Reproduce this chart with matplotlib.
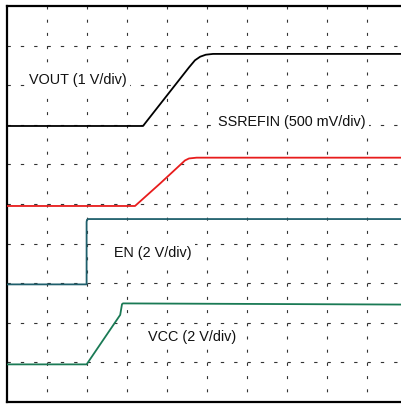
import matplotlib
matplotlib.use("Agg")
import matplotlib.pyplot as plt

plt.rcParams['font.family'] = ['Liberation Sans', 'DejaVu Sans']
plt.rcParams['lines.scale_dashes'] = False

# Oscilloscope traces in divisions (x: time div, y: vertical div)
vout_t = [0.0, 3.40, 4.55, 4.70, 4.83, 4.97, 5.15, 10.0]
vout_v = [6.97, 6.97, 8.45, 8.63, 8.72, 8.77, 8.79, 8.79]

ssrefin_t = [0.0, 3.20, 3.83, 4.45, 4.55, 4.74, 10.0]
ssrefin_v = [4.95, 4.95, 5.52, 6.10, 6.15, 6.17, 6.17]

en_t = [0.0, 1.99, 1.99, 2.00, 2.03, 2.10, 10.0]
en_v = [2.97, 2.97, 4.55, 4.60, 4.62, 4.62, 4.62]

vcc_t = [0.0, 1.99, 2.83, 2.875, 2.90, 10.0]
vcc_v = [0.95, 0.95, 2.20, 2.47, 2.49, 2.46]

labels = ["VOUT (1 V/div)", "SSREFIN (500 mV/div)", "EN (2 V/div)", "VCC (2 V/div)"]
label_pos = [(0.55, 8.13), (5.28, 7.07), (2.68, 3.77), (3.53, 1.64)]

W, H = 402, 404
fig = plt.figure(figsize=(W / 100, H / 100), dpi=100)
ax = fig.add_axes([7 / W, 2 / H, 400 / W, 396 / H])
ax.set_xlim(0, 10)
ax.set_ylim(0, 10)
ax.set_xticks([])
ax.set_yticks([])
for s in ['left', 'top', 'bottom']:
    ax.spines[s].set_linewidth(1.6)
    ax.spines[s].set_color('black')
ax.spines['right'].set_visible(False)

grid_kw = dict(color='#333333', lw=0.8, zorder=1)
# horizontal: period 13.33 px = 9.6 pt, dash 2.4 pt starting at each crossing
# vertical: period 13.2 px = 9.504 pt, dash 2.16 pt hanging below each crossing
for i in range(1, 10):
    ax.axvline(i, linestyle=(2.16, (2.16, 9.504 - 2.16)), **grid_kw)
    ax.axhline(i, linestyle=(0.0, (2.4, 7.2)), **grid_kw)

lw = 1.3
ax.plot(vout_t, vout_v, color='black', lw=lw, zorder=3)
ax.plot(ssrefin_t, ssrefin_v, color='#e81c1c', lw=lw, zorder=3)
ax.plot(en_t, en_v, color='#1f5f6c', lw=lw, zorder=3)
ax.plot(vcc_t, vcc_v, color='#1a7a55', lw=lw, zorder=3)

for txt, (x, y) in zip(labels, label_pos):
    ax.text(x, y, txt, fontsize=10.4, color='#111111', ha='left', va='center', zorder=4,
            bbox=dict(boxstyle='square,pad=0.25', fc='white', ec='none'))

fig.savefig('out.png', dpi=100)
